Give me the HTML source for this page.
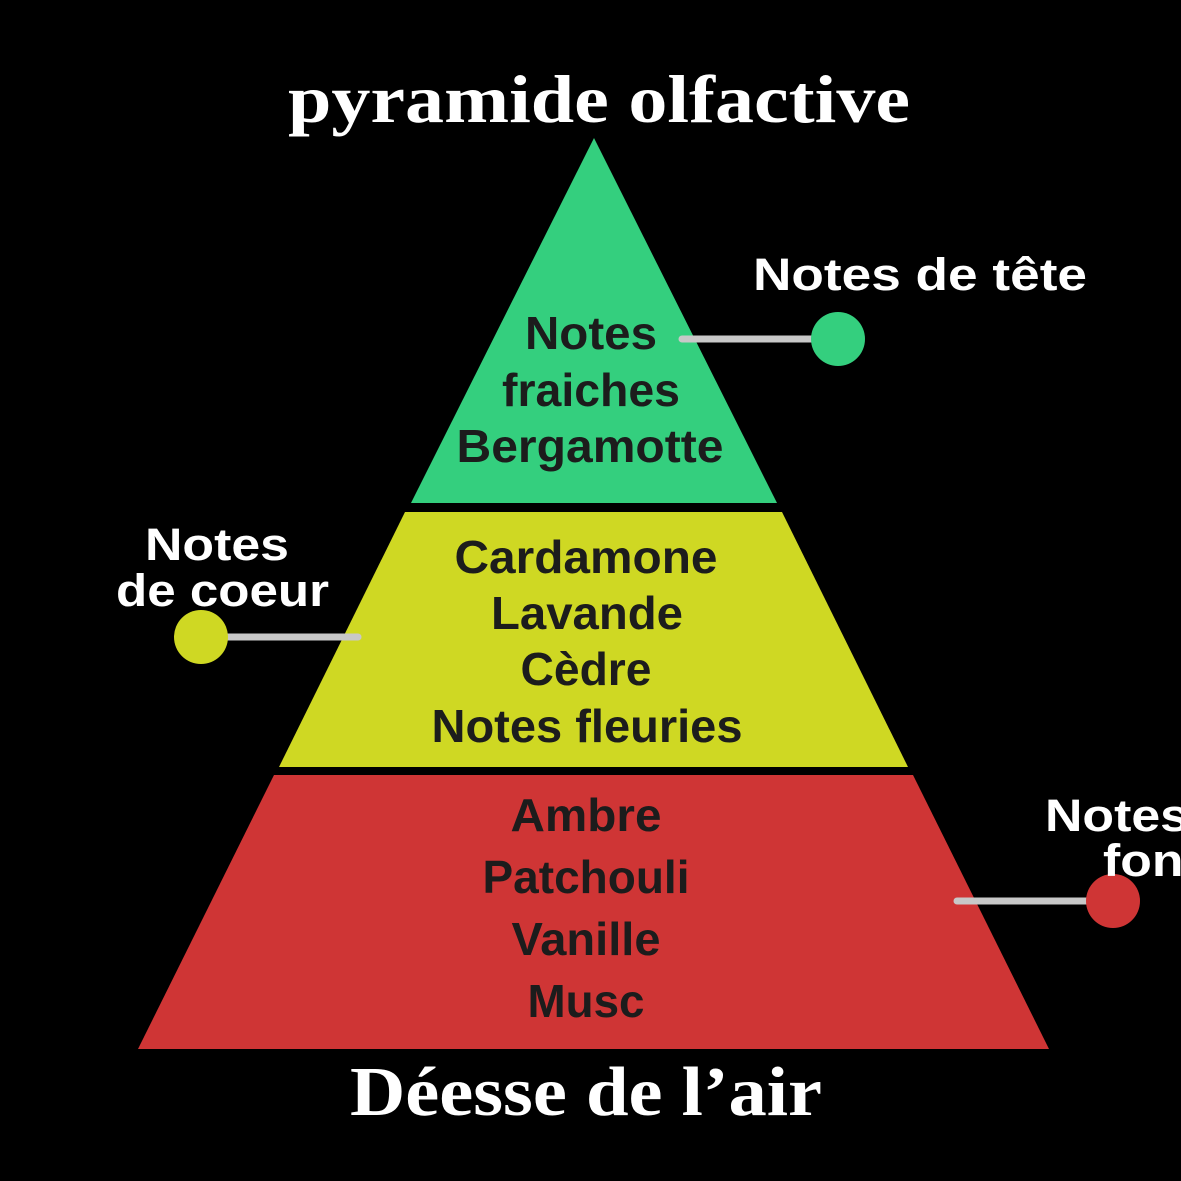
<!DOCTYPE html>
<html><head><meta charset="utf-8"><style>
html,body{margin:0;padding:0;background:#000;width:1181px;height:1181px;overflow:hidden}
svg{display:block}
.in{font-family:"Liberation Sans",sans-serif;font-weight:bold;font-size:46px;fill:#1c1c1c;text-anchor:middle}
.lb{font-family:"Liberation Sans",sans-serif;font-weight:bold;font-size:45px;fill:#fff}
.ti{font-family:"Liberation Serif",serif;font-weight:bold;fill:#fff;text-anchor:middle}
</style></head><body>
<svg width="1181" height="1181" viewBox="0 0 1181 1181">
<rect width="1181" height="1181" fill="#000"/>
<text class="ti" x="599" y="122" font-size="68" textLength="622" lengthAdjust="spacingAndGlyphs">pyramide olfactive</text>
<polygon points="594,138 777,503 411,503" fill="#34cf7e"/>
<polygon points="405,512 782,512 908,767 279,767" fill="#cfd823"/>
<polygon points="274,775 913,775 1049,1049 138,1049" fill="#cf3535"/>
<g lengthAdjust="spacingAndGlyphs">
<text class="in" x="591" y="349" textLength="132" lengthAdjust="spacingAndGlyphs">Notes</text>
<text class="in" x="591" y="406" textLength="178" lengthAdjust="spacingAndGlyphs">fraiches</text>
<text class="in" x="590" y="462" textLength="267" lengthAdjust="spacingAndGlyphs">Bergamotte</text>
<text class="in" x="586" y="573" textLength="263" lengthAdjust="spacingAndGlyphs">Cardamone</text>
<text class="in" x="587" y="629" textLength="192" lengthAdjust="spacingAndGlyphs">Lavande</text>
<text class="in" x="586" y="685" textLength="131" lengthAdjust="spacingAndGlyphs">Cèdre</text>
<text class="in" x="587" y="742" textLength="311" lengthAdjust="spacingAndGlyphs">Notes fleuries</text>
<text class="in" x="586" y="831" textLength="151" lengthAdjust="spacingAndGlyphs">Ambre</text>
<text class="in" x="586" y="893" textLength="207" lengthAdjust="spacingAndGlyphs">Patchouli</text>
<text class="in" x="586" y="955" textLength="149" lengthAdjust="spacingAndGlyphs">Vanille</text>
<text class="in" x="586" y="1017" textLength="117" lengthAdjust="spacingAndGlyphs">Musc</text>
</g>
<line x1="682" y1="339" x2="838" y2="339" stroke="#c8c8c8" stroke-width="7" stroke-linecap="round"/>
<circle cx="838" cy="339" r="27" fill="#34cf7e"/>
<line x1="201" y1="637" x2="358" y2="637" stroke="#c8c8c8" stroke-width="7" stroke-linecap="round"/>
<circle cx="201" cy="637" r="27" fill="#cfd823"/>
<line x1="957" y1="901" x2="1113" y2="901" stroke="#c8c8c8" stroke-width="7" stroke-linecap="round"/>
<circle cx="1113" cy="901" r="27" fill="#cf3535"/>
<text class="lb" x="753" y="290" textLength="334" lengthAdjust="spacingAndGlyphs">Notes de tête</text>
<text class="lb" x="145" y="560" textLength="144" lengthAdjust="spacingAndGlyphs">Notes</text>
<text class="lb" x="116" y="606" textLength="213" lengthAdjust="spacingAndGlyphs">de coeur</text>
<text class="lb" x="1045" y="831" textLength="144" lengthAdjust="spacingAndGlyphs">Notes</text>
<text class="lb" x="1103" y="876" textLength="112" lengthAdjust="spacingAndGlyphs">fond</text>
<text class="ti" x="586" y="1115" font-size="70" textLength="472" lengthAdjust="spacingAndGlyphs">Déesse de l’air</text>
</svg>
</body></html>
